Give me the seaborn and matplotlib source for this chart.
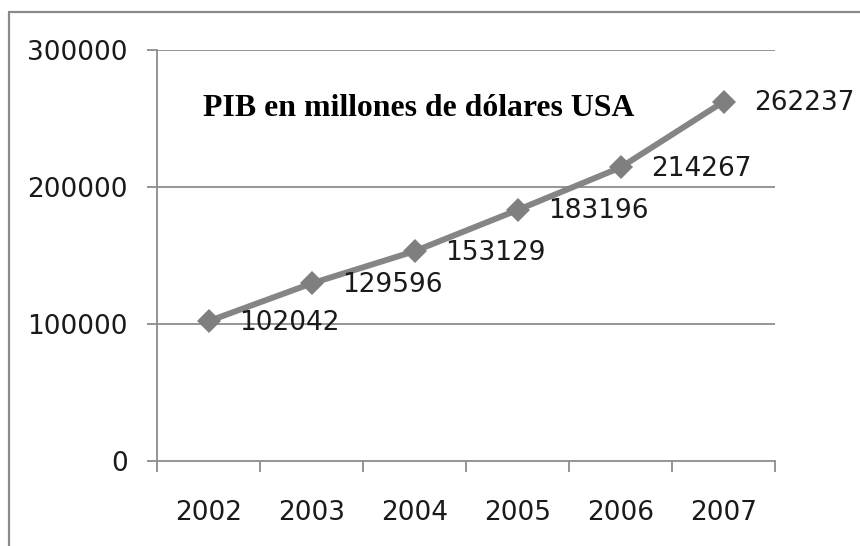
import matplotlib
matplotlib.use("Agg")
import matplotlib.pyplot as plt
import seaborn as sns
import pandas as pd
from matplotlib.lines import Line2D

years = ["2002", "2003", "2004", "2005", "2006", "2007"]
pib = [102042, 129596, 153129, 183196, 214267, 262237]
yticks = [0, 100000, 200000, 300000]
title = "PIB en millones de dólares USA"

sns.set_theme(style="white")
plt.rcParams["font.family"] = ["DejaVu Sans"]

W, H = 860, 546
fig = plt.figure(figsize=(W / 100, H / 100), dpi=100)
fig.patch.set_facecolor("white")

# outer chart frame (only top and left visible)
frame_col = "#8a8a8a"
fig.add_artist(Line2D([9 / W, 9 / W], [0, 1 - 12 / H], transform=fig.transFigure,
                      color=frame_col, lw=1.6))
fig.add_artist(Line2D([9 / W, 1], [1 - 12 / H, 1 - 12 / H], transform=fig.transFigure,
                      color=frame_col, lw=1.6))

left, right, top, bottom = 157, 775, 50, 461
ax = fig.add_axes([left / W, 1 - bottom / H, (right - left) / W, (bottom - top) / H])
ax.set_facecolor("white")

df = pd.DataFrame({"year": years, "pib": pib})
df["pos"] = range(len(years))
line_col = "#858585"
sns.lineplot(data=df, x="pos", y="pib", ax=ax, color=line_col, linewidth=4.3,
             marker="D", markersize=12, markeredgewidth=0, markerfacecolor="#7f7f7f",
             legend=False)

ax.set_xlim(-0.5, len(years) - 0.5)
ax.set_ylim(0, 300000)
ax.set_xlabel("")
ax.set_ylabel("")

grid_col = "#8c8c8c"
for y in yticks[1:]:
    ax.axhline(y, color=grid_col, lw=1.3, zorder=0)

for s in ["top", "right"]:
    ax.spines[s].set_visible(False)
for s in ["left", "bottom"]:
    ax.spines[s].set_color(grid_col)
    ax.spines[s].set_linewidth(1.3)

ax.set_yticks(yticks)
ax.set_yticklabels([str(v) for v in yticks])
ax.set_xticks(range(len(years)))
ax.set_xticklabels(years)
ax.set_xticks([i - 0.5 for i in range(len(years) + 1)], minor=True)

fs = 19
ax.tick_params(axis="y", which="major", direction="out", length=7.2, width=1.3,
               color=grid_col, pad=14, labelsize=fs, labelcolor="#1a1a1a", left=True)
ax.tick_params(axis="x", which="major", length=0, pad=28, labelsize=fs,
               labelcolor="#1a1a1a", bottom=False)
ax.tick_params(axis="x", which="minor", direction="out", length=8, width=1.3,
               color=grid_col, bottom=True)

for i, v in enumerate(pib):
    ax.annotate(str(v), (i, v), xytext=(22, -1), textcoords="offset points",
                ha="left", va="center", fontsize=fs, color="#1a1a1a")

fig.text(203 / W, 1 - 108 / H, title, ha="left", va="center",
         fontsize=22.9, fontweight="bold", family=["Liberation Serif", "DejaVu Serif"],
         color="black")

fig.savefig("out.png", dpi=100, facecolor="white")
